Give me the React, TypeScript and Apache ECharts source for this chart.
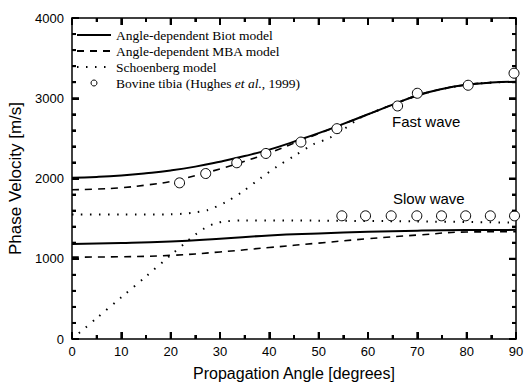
import React, { useEffect, useRef } from 'react';
import * as echarts from 'echarts';

const BIOT = 'Angle-dependent Biot model';
const MBA = 'Angle-dependent MBA model';
const SCHOEN = 'Schoenberg model';
const BOVINE = 'Bovine tibia (Hughes et al., 1999)';

const modelAngles = [0, 5, 10, 15, 20, 25, 30, 35, 40, 45, 50, 55, 60, 65, 70, 75, 80, 85, 90];
const biotFast = [2010, 2020, 2038, 2065, 2100, 2148, 2210, 2280, 2360, 2460, 2565, 2680, 2800, 2920, 3035, 3115, 3168, 3195, 3205];
const mbaFast = [1860, 1868, 1885, 1918, 1962, 2035, 2120, 2215, 2320, 2440, 2560, 2680, 2800, 2920, 3035, 3115, 3168, 3195, 3205];

const slowAngles = [0, 10, 20, 30, 40, 50, 60, 70, 80, 90];
const biotSlow = [1185, 1195, 1215, 1250, 1290, 1315, 1335, 1350, 1358, 1360];
const mbaSlow = [1020, 1025, 1042, 1085, 1140, 1195, 1250, 1295, 1333, 1338];

const schoenFastAngles = [0, 10, 20, 22.3, 25, 27.4, 31.1, 34.7, 38.3, 41.5, 45.2, 48.9, 52.3, 55, 58, 60, 65, 70, 75, 80, 85, 90];
const schoenFast = [1550, 1550, 1553, 1560, 1578, 1604, 1704, 1842, 2008, 2146, 2287, 2425, 2508, 2610, 2740, 2800, 2920, 3035, 3115, 3168, 3195, 3205];
const schoenSlowAngles = [0, 5, 10, 15, 20, 23, 25, 27, 29, 31, 35, 50, 70, 90];
const schoenSlow = [0, 260, 520, 780, 1045, 1200, 1300, 1385, 1440, 1465, 1478, 1475, 1465, 1450];

const dataFastAngles = [21.8, 27.1, 33.4, 39.3, 46.4, 53.7, 66, 70, 80.3, 89.6];
const dataFast = [1946, 2062, 2196, 2312, 2454, 2621, 2904, 3062, 3162, 3312];
const dataSlowAngles = [54.7, 59.5, 64.7, 69.9, 74.9, 79.8, 84.8, 89.7];
const dataSlow = [1535, 1535, 1535, 1535, 1535, 1535, 1535, 1535];

// tick positions (drawn on all four sides, pointing inward)
const xMajorTicks = [0, 10, 20, 30, 40, 50, 60, 70, 80, 90];
const xMinorTicks = [5, 15, 25, 35, 45, 55, 65, 75, 85];
const yMajorTicks = [0, 1000, 2000, 3000, 4000];
const yMinorTicks = [200, 400, 600, 800, 1200, 1400, 1600, 1800, 2200, 2400, 2600, 2800, 3200, 3400, 3600, 3800];

const pairs = (xs: number[], ys: number[]) => xs.map((x, i) => [x, ys[i]]);

const SANS = 'Liberation Sans';
const SERIF = 'Liberation Serif';

export default function App() {
  const ref = useRef<HTMLDivElement>(null);
  useEffect(() => {
    if (!ref.current) return;
    const chart = echarts.init(ref.current, undefined, { renderer: 'svg' });
    const mkLine = () => ({ show: true, onZero: false, lineStyle: { color: '#000', width: 1.5 } });
    const mkTick = () => ({ show: true, inside: true, length: 7, lineStyle: { color: '#000', width: 2 } });
    const mkMinor = (n: number) => ({ show: true, splitNumber: n, length: 4, lineStyle: { color: '#000', width: 2 } });
    const solid = { color: '#000', width: 2, type: 'solid' };
    const dashed = { color: '#000', width: 1.6, type: [7, 6] };
    const dotted = { color: '#000', width: 2, type: [1.5, 7.5] };
    const circleStyle = { color: '#fff', borderColor: '#000', borderWidth: 1, opacity: 1 };
    const hidden = { color: 'transparent', borderColor: 'transparent', opacity: 0 };
    const plain = (v: number) => String(v);

    // [value, kind]: 0 = x major, 1 = x minor, 2 = y major, 3 = y minor
    const tickData = [
      ...xMajorTicks.map((v) => [v, 0]),
      ...xMinorTicks.map((v) => [v, 1]),
      ...yMajorTicks.map((v) => [v, 2]),
      ...yMinorTicks.map((v) => [v, 3]),
    ];
    const tickStyle = { stroke: '#000', lineWidth: 2 };
    const renderTick = (params: any, api: any) => {
      const v = api.value(0);
      const k = api.value(1);
      const len = k === 0 || k === 2 ? 7 : 4;
      if (k <= 1) {
        const b = api.coord([v, 0]);
        const t = api.coord([v, 4000]);
        return {
          type: 'group',
          children: [
            { type: 'line', shape: { x1: b[0], y1: b[1], x2: b[0], y2: b[1] - len }, style: tickStyle },
            { type: 'line', shape: { x1: t[0], y1: t[1], x2: t[0], y2: t[1] + len }, style: tickStyle },
          ],
        };
      }
      const l = api.coord([0, v]);
      const r = api.coord([90, v]);
      return {
        type: 'group',
        children: [
          { type: 'line', shape: { x1: l[0], y1: l[1], x2: l[0] + len, y2: l[1] }, style: tickStyle },
          { type: 'line', shape: { x1: r[0], y1: r[1], x2: r[0] - len, y2: r[1] }, style: tickStyle },
        ],
      };
    };

    chart.setOption({
      animation: false,
      backgroundColor: '#fff',
      grid: { left: 72, right: 12, top: 18, bottom: 45, containLabel: false, outerBoundsMode: 'none' },
      legend: {
        orient: 'vertical',
        left: 76,
        top: 28,
        padding: 0,
        itemWidth: 34,
        itemHeight: 6,
        itemGap: 2,
        data: [
          { name: BIOT, itemStyle: hidden },
          { name: MBA, itemStyle: hidden },
          { name: SCHOEN, itemStyle: hidden },
          { name: BOVINE, icon: 'circle', itemStyle: circleStyle },
        ],
        textStyle: {
          fontFamily: SERIF,
          fontSize: 13.5,
          color: '#000',
          lineHeight: 14,
          rich: {
            i: { fontFamily: SERIF, fontSize: 13.5, fontStyle: 'italic', color: '#000', lineHeight: 14 },
          },
        },
        formatter: (name: string) =>
          name === BOVINE ? 'Bovine tibia (Hughes {i|et al.}, 1999)' : name,
      },
      xAxis: [
        {
          type: 'value', min: 0, max: 90, interval: 10,
          axisLine: mkLine(), axisTick: mkTick(), minorTick: mkMinor(2),
          splitLine: { show: false },
          axisLabel: { color: '#000', fontFamily: SANS, fontSize: 13, margin: 6, formatter: plain },
          name: 'Propagation Angle [degrees]', nameLocation: 'middle', nameGap: 26,
          nameTextStyle: { color: '#000', fontFamily: SANS, fontSize: 16 },
        },
        {
          type: 'value', position: 'top', min: 0, max: 90, interval: 10,
          axisLine: mkLine(), axisTick: mkTick(), minorTick: mkMinor(2),
          splitLine: { show: false }, axisLabel: { show: false },
        },
      ],
      yAxis: [
        {
          type: 'value', min: 0, max: 4000, interval: 1000,
          axisLine: mkLine(), axisTick: mkTick(), minorTick: mkMinor(5),
          splitLine: { show: false },
          axisLabel: { color: '#000', fontFamily: SANS, fontSize: 13, margin: 8, formatter: plain },
          name: 'Phase Velocity [m/s]', nameLocation: 'middle', nameGap: 46,
          nameTextStyle: { color: '#000', fontFamily: SANS, fontSize: 17 },
        },
        {
          type: 'value', position: 'right', min: 0, max: 4000, interval: 1000,
          axisLine: mkLine(), axisTick: mkTick(), minorTick: mkMinor(5),
          splitLine: { show: false }, axisLabel: { show: false },
        },
      ],
      series: [
        { name: BIOT, type: 'line', data: pairs(modelAngles, biotFast), smooth: true, symbol: 'none', lineStyle: solid, itemStyle: { color: '#000' } },
        { name: BIOT, type: 'line', data: pairs(slowAngles, biotSlow), smooth: true, symbol: 'none', lineStyle: solid, itemStyle: { color: '#000' } },
        { name: MBA, type: 'line', data: pairs(modelAngles, mbaFast), smooth: true, symbol: 'none', lineStyle: dashed, itemStyle: { color: '#000' } },
        { name: MBA, type: 'line', data: pairs(slowAngles, mbaSlow), smooth: true, symbol: 'none', lineStyle: dashed, itemStyle: { color: '#000' } },
        { name: SCHOEN, type: 'line', data: pairs(schoenFastAngles, schoenFast), smooth: 0.3, symbol: 'none', lineStyle: dotted, itemStyle: { color: '#000' } },
        { name: SCHOEN, type: 'line', data: pairs(schoenSlowAngles, schoenSlow), smooth: 0.3, symbol: 'none', lineStyle: dotted, itemStyle: { color: '#000' } },
        { name: BOVINE, type: 'scatter', data: pairs(dataFastAngles, dataFast), symbol: 'circle', symbolSize: 10, itemStyle: circleStyle, z: 5 },
        { name: BOVINE, type: 'scatter', data: pairs(dataSlowAngles, dataSlow), symbol: 'circle', symbolSize: 10, itemStyle: circleStyle, z: 5 },
        { name: 'ticks', type: 'custom', data: tickData, renderItem: renderTick, silent: true, clip: false, z: 10 },
      ],
      graphic: [
        { type: 'text', left: 392, top: 114, style: { text: 'Fast wave', fontFamily: SANS, fontSize: 15, fill: '#000' } },
        { type: 'text', left: 393, top: 191, style: { text: 'Slow wave', fontFamily: SANS, fontSize: 15, fill: '#000' } },
      ],
    });
    return () => chart.dispose();
  }, []);
  return <div ref={ref} style={{ position: 'fixed', left: 0, top: 0, width: 528, height: 384 }} />;
}
